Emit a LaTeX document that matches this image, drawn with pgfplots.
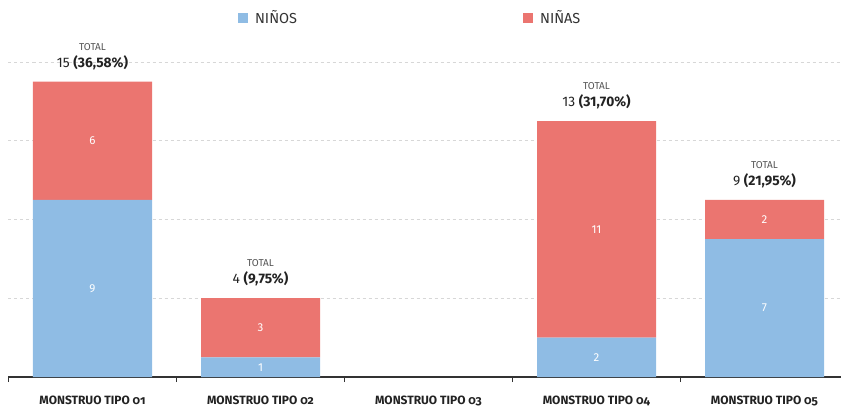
\documentclass[border=0pt]{standalone}
\usepackage{fontspec}
\setmainfont{Fira Sans}
\newfontfamily\osf{Fira Sans}[Numbers=OldStyle]
\usepackage{pgfplots}
\pgfplotsset{compat=1.18}
\definecolor{ninos}{RGB}{143,188,228}
\definecolor{ninas}{RGB}{235,117,112}
\definecolor{txt}{RGB}{34,34,34}
\definecolor{axisc}{RGB}{51,51,51}
\definecolor{gridc}{RGB}{215,215,215}
\definecolor{totc}{RGB}{85,85,85}
\newcommand{\tot}[3]{%
  \node[text=totc, font=\fontsize{10}{12}\selectfont] at ([yshift=35pt]axis cs:#1,#2) {TOTAL};
  \node[text=txt, font=\fontsize{13.8}{16}\selectfont] at ([yshift=19pt]axis cs:#1,#2) {#2 \textbf{(#3\%)}};}
\newcommand{\val}[2]{\node[text=white, font=\fontsize{11.5}{13}\selectfont] at (#1) {#2};}
\begin{document}
\begin{tikzpicture}
\begin{axis}[
  at={(8.5pt,30pt)}, anchor=south west,
  scale only axis, width=840pt, height=315pt,
  xmin=-0.5, xmax=4.5, ymin=0, ymax=16,
  ybar stacked, bar width=119pt,
  axis x line*=bottom, axis y line*=left,
  y axis line style={draw=none},
  x axis line style={draw=axisc, line width=1.2pt, -},
  xtick={-0.5,0.5,1.5,2.5,3.5,4.5},
  x tick label as interval,
  xticklabels={MONSTRUO TIPO 01,MONSTRUO TIPO 02,MONSTRUO TIPO 03,MONSTRUO TIPO 04,MONSTRUO TIPO 05},
  xticklabel style={font=\osf\bfseries\fontsize{12}{14}\selectfont, text=txt, yshift=-10.5pt},
  tick align=outside, major tick length=5pt,
  xtick style={draw=axisc, line width=1.2pt},
  ytick={4,8,12,16}, yticklabels={}, ytick style={draw=none},
  ymajorgrids, grid style={gridc, line width=0.8pt, dash pattern=on 3pt off 3pt},
  clip=false,
  legend style={at={(0.2695,1.1397)}, anchor=west, draw=none, fill=none,
    legend columns=2, font=\fontsize{14.5}{16}\selectfont, text=axisc,
    legend cell align=left,
    /tikz/every odd column/.append style={column sep=5pt},
    /tikz/every even column/.append style={column sep=224pt}},
]
\addplot[fill=ninos, draw=none, legend image code/.code={\fill[ninos] (0pt,-5pt) rectangle (10pt,5pt);}]
  coordinates {(0,9) (1,1) (2,0) (3,2) (4,7)};
\addlegendentry{NIÑOS}
\addplot[fill=ninas, draw=none, legend image code/.code={\fill[ninas] (0pt,-5pt) rectangle (10pt,5pt);}]
  coordinates {(0,6) (1,3) (2,0) (3,11) (4,2)};
\addlegendentry{NIÑAS}
\coordinate (a1) at (axis cs:0,4.5);
\coordinate (a2) at (axis cs:0,12);
\coordinate (b1) at (axis cs:1,0.5);
\coordinate (b2) at (axis cs:1,2.5);
\coordinate (d1) at (axis cs:3,1);
\coordinate (d2) at (axis cs:3,7.5);
\coordinate (e1) at (axis cs:4,3.5);
\coordinate (e2) at (axis cs:4,8);
\tot{0}{15}{36,58}
\tot{1}{4}{9,75}
\tot{3}{13}{31,70}
\tot{4}{9}{21,95}
\end{axis}
\val{a1}{9}\val{a2}{6}
\val{b1}{1}\val{b2}{3}
\val{d1}{2}\val{d2}{11}
\val{e1}{7}\val{e2}{2}
\pgfresetboundingbox
\path[use as bounding box] (0,0) rectangle (841pt,407pt);
\end{tikzpicture}
\end{document}
